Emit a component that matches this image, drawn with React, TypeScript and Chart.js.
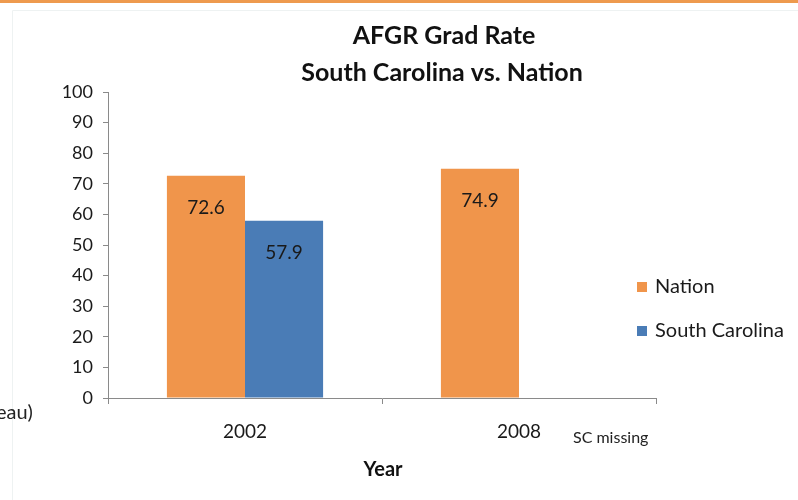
import React, { useEffect, useRef } from "react";
import { Chart, registerables } from "chart.js";

Chart.register(...registerables);

const categories = ["2002", "2008"];
const seriesNames = ["Nation", "South Carolina"];
const nationValues: (number | null)[] = [72.6, 74.9];
const southCarolinaValues: (number | null)[] = [57.9, null];
const seriesColors = ["#F0954B", "#4A7CB6"];
const yMin = 0;
const yMax = 100;
const yStep = 10;
const titleLines = ["AFGR Grad Rate", "South Carolina vs. Nation"];
const xAxisTitle = "Year";
const noteText = "SC missing";
const cutOffText = "eau)";

const FONT = "Lato, 'Open Sans', sans-serif";

const overlayPlugin = {
  id: "overlay",
  beforeDraw(chart: any) {
    const ctx = chart.ctx;
    ctx.save();
    ctx.fillStyle = "#ffffff";
    ctx.fillRect(0, 0, chart.width, chart.height);
    // faint frame
    ctx.strokeStyle = "#eef2f2";
    ctx.lineWidth = 1;
    ctx.beginPath();
    ctx.moveTo(12.5, 500);
    ctx.lineTo(12.5, 10.5);
    ctx.lineTo(798, 10.5);
    ctx.stroke();
    // top accent line
    ctx.fillStyle = "#EE9A4E";
    ctx.fillRect(0, 0, chart.width, 3);
    ctx.restore();
  },
  afterDatasetsDraw(chart: any) {
    const ctx = chart.ctx;
    ctx.save();
    ctx.font = `19px ${FONT}`;
    ctx.fillStyle = "#1a1a1a";
    ctx.textAlign = "center";
    ctx.textBaseline = "middle";
    chart.data.datasets.forEach((ds: any, i: number) => {
      const meta = chart.getDatasetMeta(i);
      meta.data.forEach((bar: any, j: number) => {
        const v = ds.data[j];
        if (v === null || v === undefined) return;
        ctx.fillText(Number(v).toFixed(1), bar.x, bar.y + 32);
      });
    });
    ctx.restore();
  },
  afterDraw(chart: any) {
    const ctx = chart.ctx;
    ctx.save();
    ctx.fillStyle = "#111111";
    ctx.textAlign = "center";
    ctx.textBaseline = "middle";
    ctx.font = `bold 25px ${FONT}`;
    ctx.fillText(titleLines[0], 444, 36);
    ctx.fillText(titleLines[1], 442, 73);
    ctx.font = `bold 20px ${FONT}`;
    ctx.fillText(xAxisTitle, 383, 470);
    ctx.font = `16px ${FONT}`;
    ctx.textAlign = "left";
    ctx.fillStyle = "#222222";
    ctx.fillText(noteText, 573, 438);
    ctx.font = `20px ${FONT}`;
    ctx.fillText(cutOffText, -4, 413);
    // legend
    const legendY = [287, 331];
    ctx.font = `20px ${FONT}`;
    chart.data.datasets.forEach((ds: any, i: number) => {
      ctx.fillStyle = ds.backgroundColor;
      ctx.fillRect(637, legendY[i] - 5, 10, 10);
      ctx.fillStyle = "#1a1a1a";
      ctx.fillText(ds.label, 655, legendY[i]);
    });
    ctx.restore();
  },
};

export default function App() {
  const canvasRef = useRef<HTMLCanvasElement | null>(null);

  useEffect(() => {
    if (!canvasRef.current) return;
    const chart = new Chart(canvasRef.current, {
      type: "bar",
      data: {
        labels: categories,
        datasets: [
          {
            label: seriesNames[0],
            data: nationValues,
            backgroundColor: seriesColors[0],
            borderWidth: 0,
          },
          {
            label: seriesNames[1],
            data: southCarolinaValues,
            backgroundColor: seriesColors[1],
            borderWidth: 0,
          },
        ],
      },
      options: {
        responsive: false,
        animation: false,
        devicePixelRatio: 1,
        layout: { padding: { left: 0, right: 142, top: 92, bottom: 0 } },
        datasets: {
          bar: { categoryPercentage: 0.57, barPercentage: 1, skipNull: false },
        },
        plugins: {
          legend: { display: false },
          title: { display: false },
          tooltip: { enabled: false },
        },
        scales: {
          x: {
            afterFit: (scale: any) => {
              scale.height = 102;
            },
            grid: {
              offset: true,
              drawOnChartArea: false,
              drawTicks: true,
              tickLength: 6,
              color: "#8a8a8a",
            },
            border: { color: "#8a8a8a", width: 1 },
            ticks: {
              padding: 16,
              color: "#1a1a1a",
              font: { family: FONT, size: 19 },
            },
          },
          y: {
            min: yMin,
            max: yMax,
            afterFit: (scale: any) => {
              scale.width = 108;
            },
            grid: {
              drawOnChartArea: false,
              drawTicks: true,
              tickLength: 5,
              color: "#8a8a8a",
            },
            border: { color: "#8a8a8a", width: 1 },
            ticks: {
              stepSize: yStep,
              padding: 10,
              color: "#1a1a1a",
              font: { family: FONT, size: 18 },
            },
          },
        },
      },
      plugins: [overlayPlugin],
    });
    return () => chart.destroy();
  }, []);

  return (
    <div
      style={{
        position: "absolute",
        left: 0,
        top: 0,
        width: 798,
        height: 500,
        background: "#fff",
      }}
    >
      <canvas ref={canvasRef} width={798} height={500} style={{ width: 798, height: 500, display: "block" }} />
    </div>
  );
}
